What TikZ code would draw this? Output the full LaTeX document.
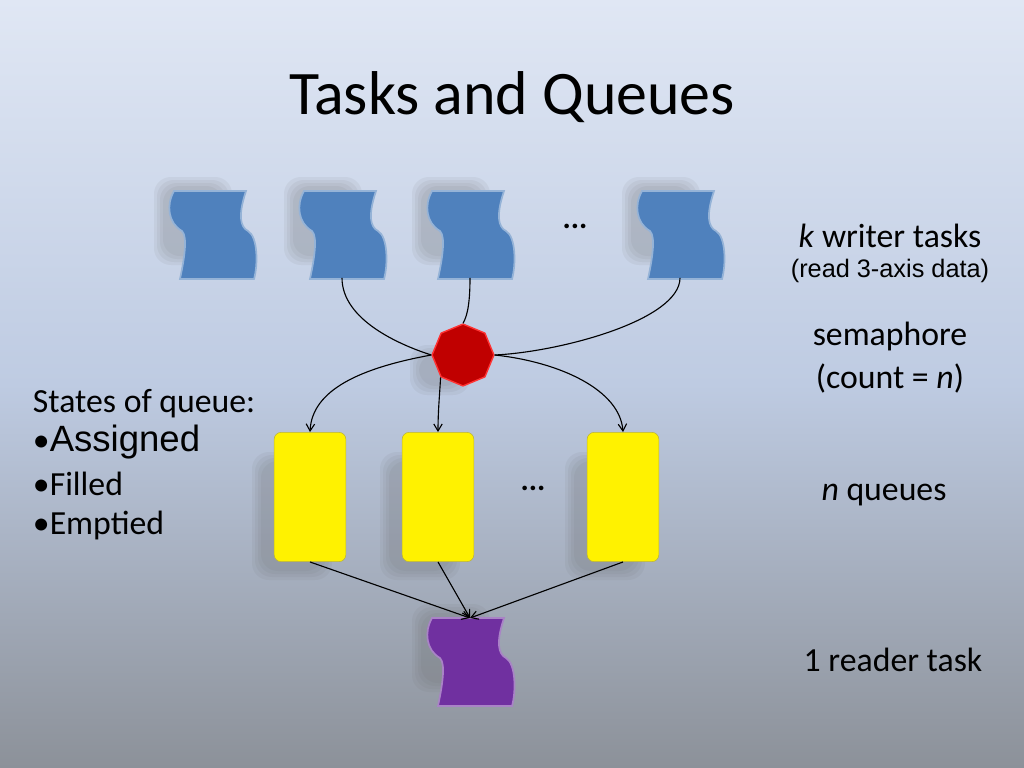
\documentclass[tikz,border=0pt]{standalone}
\usepackage{fontspec}
\setmainfont{Carlito}
\newfontfamily\arialf{Liberation Sans}
\usetikzlibrary{shapes.geometric,arrows.meta,calc}
\definecolor{tapeblue}{HTML}{4F81BD}
\definecolor{tapepurple}{HTML}{7030A0}
\definecolor{stopred}{HTML}{C00000}
\newcommand\blurbox[4]{% x1 y1 x2 y2
  \foreach \k in {0,3,6,9}{
    \fill[black!60,opacity=0.08,rounded corners=12] (#1+\k,#2+\k) rectangle (#3-\k,#4-\k);}}
\newcommand\tapeshape[3]{%
  \node[inner sep=0,minimum width=62pt,minimum height=62pt] (#1) at (#2) {};
  \path let \p1=(#1.center) in \pgfextra{\xdef\cx{\x1}\xdef\cy{\y1}};
  \begin{scope}[shift={(#1.center)}]
  \blurbox{-58}{-58}{20}{30}
  \filldraw[fill=#3,draw=#3!60!white,line width=1.2pt]
    (-38,-44) -- (34,-44) .. controls (26,-20) and (28,-8) .. (36,-4)
    .. controls (46,2) and (46,30) .. (42,44) -- (-32,44)
    .. controls (-28,25) and (-24,2) .. (-30,-4)
    .. controls (-44,-12) and (-46,-30) .. (-38,-44) -- cycle;
  \end{scope}}
\begin{document}
\begin{tikzpicture}[x=0.025cm,y=-0.025cm,
  lab/.style={font=\fontsize{24}{28}\selectfont,anchor=center},
  conn/.style={black,line width=0.8pt},
  arr/.style={conn,-{Straight Barb[length=5pt,width=6pt]}},
  queue/.style={fill=yellow,draw=yellow!70!black,rounded corners=5,minimum width=51pt,minimum height=92pt,inner sep=0}]
\shade[top color={rgb,255:red,224;green,231;blue,244},bottom color={rgb,255:red,140;green,145;blue,153},middle color={rgb,255:red,190;green,203;blue,226}] (0,0) rectangle (1024,768);
\useasboundingbox (0,0) rectangle (1024,768);
\node[font=\fontsize{44}{50}\selectfont] (title) at (512,97) {Tasks and Queues};
\tapeshape{w1}{212,235}{tapeblue}
\tapeshape{w2}{342,235}{tapeblue}
\tapeshape{w3}{470,235}{tapeblue}
\tapeshape{w4}{680,235}{tapeblue}
\node[font=\bfseries\fontsize{22}{24}\selectfont] (d1) at (575,226) {...};
\blurbox{410}{345}{470}{395}
\node[regular polygon,regular polygon sides=8,shape border rotate=22.5,minimum size=44pt,inner sep=0,fill=stopred,draw=red!80!white,line width=1pt] (sem) at (463,355) {};
\foreach \n/\x in {q1/310,q2/438,q3/623}{
  \blurbox{\x-58}{452}{\x+22}{580}
  \node[queue] (\n) at (\x,497) {};}
\node[font=\bfseries\fontsize{22}{24}\selectfont] (d2) at (533,488) {...};
\tapeshape{r}{470,662}{tapepurple}
% connectors
\draw[conn] ($(w2.south)+(0,-1)$) .. controls (342,320) and (400,345) .. (sem.west);
\draw[conn] ($(w3.south)+(0,-1)$) .. controls (470,300) and (468,315) .. (sem.north);
\draw[conn] ($(w4.south)+(0,-1)$) .. controls (680,320) and (560,352) .. (sem.east);
\draw[arr] (sem.west) .. controls (360,368) and (312,390) .. (q1.north);
\draw[arr] (sem.south west) .. controls (440,390) and (438,410) .. (q2.north);
\draw[arr] (sem.east) .. controls (560,362) and (620,390) .. (q3.north);
\coordinate (rin) at (470,618);
\draw[arr] (q1.south) -- (rin);
\draw[arr] (q2.south) -- (rin);
\draw[arr] (q3.south) -- (rin);
% labels
\node[lab] (l1) at (890,236) {\textit{k} writer tasks};
\node[font=\arialf\fontsize{18}{20}\selectfont] (l2) at (890,271) {(read 3-axis data)};
\node[lab] (l3) at (890,336) {semaphore};
\node[lab] (l4) at (890,378) {(count = \textit{n})};
\node[lab] (l5) at (884,495) {\textit{n} queues};
\node[lab] (l6) at (893,660) {1 reader task};
\node[lab,anchor=west] (s0) at (28,404) {States of queue:};
\node[anchor=west,font=\fontsize{24}{28}\selectfont] (s1) at (28,442) {•{\arialf\fontsize{26}{30}\selectfont Assigned}};
\node[lab,anchor=west] (s2) at (28,484) {•Filled};
\node[lab,anchor=west] (s3) at (28,525) {•Emptied};
\end{tikzpicture}
\end{document}
